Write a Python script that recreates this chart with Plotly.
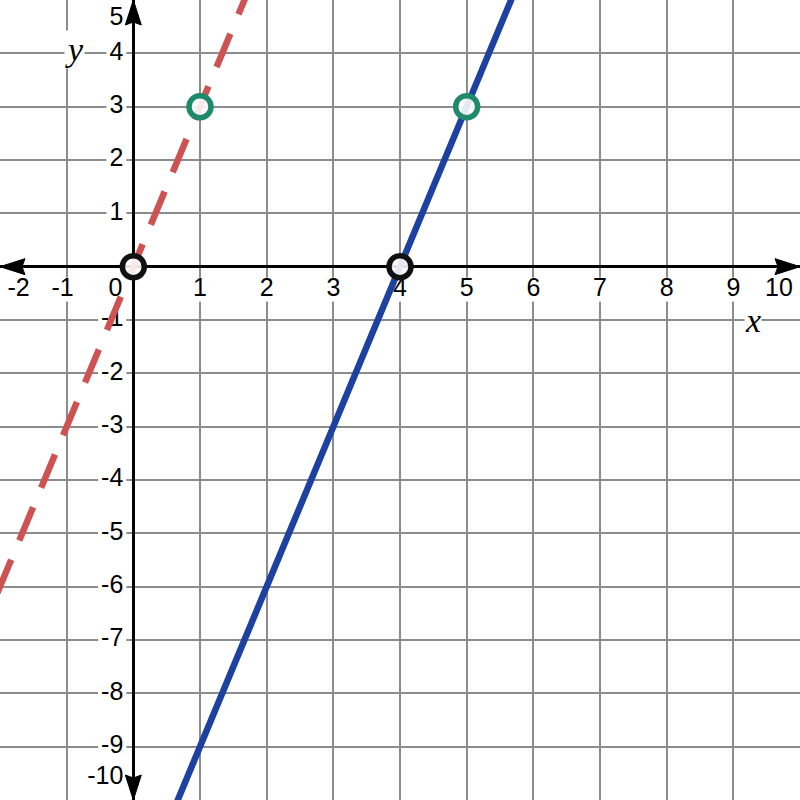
import plotly.graph_objects as go

# ---- data ----
x_range = [-2, 10]
y_range = [-10, 5]
x_ticks = [-2, -1, 0, 1, 2, 3, 4, 5, 6, 7, 8, 9, 10]
y_ticks = [5, 4, 3, 2, 1, -1, -2, -3, -4, -5, -6, -7, -8, -9, -10]

solid_x = [0, 6]          # blue solid line  (passes (4,0) and (5,3))
solid_y = [-12, 6]
dashed_x = [-2.04, 2]     # red dashed line  (passes (0,0) and (1,3))
dashed_y = [-6.12, 6]

black_pts_x = [0, 4]
black_pts_y = [0, 0]
green_pts_x = [1, 5]
green_pts_y = [3, 3]

BLUE = "#1c41a0"
RED = "#cf5252"
GREEN = "#1f8a6b"
GRID = "#8c8c8c"
FONT = "Liberation Sans, Arial, sans-serif"

W_PX, H_PX = 800, 800
PX_X = W_PX / (x_range[1] - x_range[0])   # pixels per x unit
PX_Y = H_PX / (y_range[1] - y_range[0])   # pixels per y unit

FS = 25
DIG = FS * 0.556
MINUS = FS * 0.333


def text_w(s):
    return sum(MINUS if c == "-" else DIG for c in s)


shapes = []
lab_x, lab_y, lab_t = [], [], []


def add_label(xa, ya, cx, cy, s):
    # cx, cy: pixel offsets of the label centre from the anchor (y up)
    w = text_w(s) + 6
    h = 24
    shapes.append(dict(type="rect", xref="x", yref="y", xsizemode="pixel", ysizemode="pixel",
                       xanchor=xa, yanchor=ya,
                       x0=cx - w / 2, x1=cx + w / 2, y0=cy - h / 2, y1=cy + h / 2,
                       fillcolor="white", line=dict(width=0), layer="between"))
    lab_x.append(xa + cx / PX_X)
    lab_y.append(ya + cy / PX_Y)
    lab_t.append(s)


# x tick labels
for v in x_ticks:
    s = str(v)
    if v == -2:
        cx = 18.5
    elif v == 10:
        cx = -21
    elif v == 0:
        cx = -18
    elif v < 0:
        cx = -MINUS / 2
    else:
        cx = 0
    add_label(v, 0, cx, -23, s)

# y tick labels
for v in y_ticks:
    s = str(v)
    w = text_w(s)
    cx = -10 - w / 2
    if v == 5:
        cy = -19
    elif v == -10:
        cy = 22
    else:
        cy = 0
    add_label(0, v, cx, cy, s)

fig = go.Figure()

fig.add_trace(go.Scatter(x=lab_x, y=lab_y, text=lab_t, mode="text",
                         textposition="middle center",
                         textfont=dict(family=FONT, size=FS, color="black"),
                         hoverinfo="skip", showlegend=False))
fig.add_trace(go.Scatter(x=dashed_x, y=dashed_y, mode="lines",
                         line=dict(color=RED, width=6.5, dash="36px,21px"),
                         hoverinfo="skip", showlegend=False))
fig.add_trace(go.Scatter(x=solid_x, y=solid_y, mode="lines",
                         line=dict(color=BLUE, width=6.5),
                         hoverinfo="skip", showlegend=False))
fig.add_trace(go.Scatter(x=black_pts_x, y=black_pts_y, mode="markers",
                         marker=dict(size=22, color="rgba(255,255,255,0.88)",
                                     line=dict(color="#111111", width=5.5)),
                         hoverinfo="skip", showlegend=False))
fig.add_trace(go.Scatter(x=green_pts_x, y=green_pts_y, mode="markers",
                         marker=dict(size=22, color="rgba(255,255,255,0.88)",
                                     line=dict(color=GREEN, width=5.5)),
                         hoverinfo="skip", showlegend=False))


# arrowheads
def arrow(xa, ya, path):
    return dict(type="path", xref="x", yref="y", xsizemode="pixel", ysizemode="pixel",
                xanchor=xa, yanchor=ya, path=path, fillcolor="black",
                line=dict(color="black", width=1), layer="above")


L, W = 25, 8
shapes.append(arrow(x_range[1], 0, f"M0,0 L{-L},{W} L{-L+3},0 L{-L},{-W} Z"))
shapes.append(arrow(x_range[0], 0, f"M0,0 L{L},{W} L{L-3},0 L{L},{-W} Z"))
shapes.append(arrow(0, y_range[1], f"M0,0 L{W},{-L} L0,{-L+3} L{-W},{-L} Z"))
shapes.append(arrow(0, y_range[0], f"M0,0 L{W},{L} L0,{L-3} L{-W},{L} Z"))

fig.update_layout(
    width=W_PX, height=H_PX,
    margin=dict(l=0, r=0, t=0, b=0),
    plot_bgcolor="white", paper_bgcolor="white",
    showlegend=False,
    shapes=shapes,
    xaxis=dict(range=x_range, dtick=1, tick0=0, showgrid=True, gridcolor=GRID, gridwidth=2,
               zeroline=True, zerolinecolor="black", zerolinewidth=3,
               showticklabels=False, ticks="", fixedrange=True),
    yaxis=dict(range=y_range, dtick=1, tick0=0, showgrid=True, gridcolor=GRID, gridwidth=2,
               zeroline=True, zerolinecolor="black", zerolinewidth=3,
               showticklabels=False, ticks="", fixedrange=True),
    annotations=[
        dict(text="x", xref="paper", yref="paper", x=762 / 800, y=1 - 320 / 800,
             showarrow=False, bgcolor="white", borderpad=0,
             font=dict(family="Liberation Serif, Times New Roman, serif", size=34, color="black", style="italic")),
        dict(text="y", xref="paper", yref="paper", x=64 / 800, y=1 - 30 / 800,
             showarrow=False, bgcolor="white", borderpad=0,
             font=dict(family="Liberation Serif, Times New Roman, serif", size=34, color="black", style="italic")),
    ],
)

fig.write_html("out.html", config={"displayModeBar": False},
               post_script="document.body.style.margin='0';document.body.style.overflow='hidden';")
